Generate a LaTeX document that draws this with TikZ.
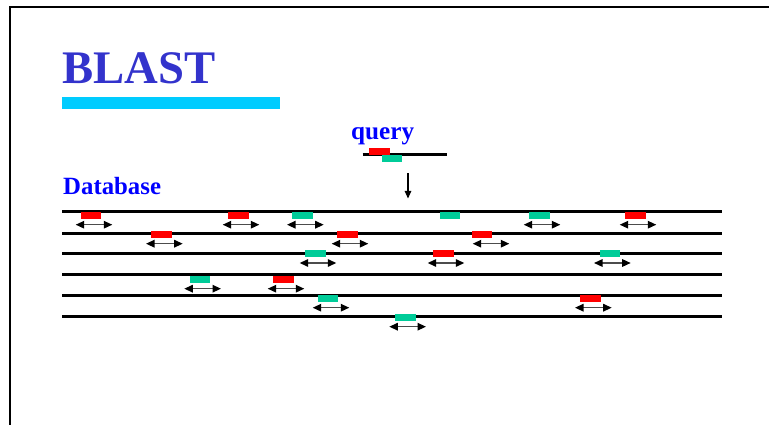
\documentclass[tikz,border=0pt]{standalone}
\usepackage{fontspec}
\setmainfont{Liberation Serif}
\usetikzlibrary{arrows.meta}
\definecolor{titleblue}{HTML}{3333CC}
\definecolor{barcyan}{HTML}{00CCFF}
\definecolor{hitred}{HTML}{FF0000}
\definecolor{hitgreen}{HTML}{00CC99}
\definecolor{lblblue}{HTML}{0000FF}
\tikzset{
  hitbox/.style={draw=none, inner sep=0pt, minimum width=20.3pt, minimum height=7pt, anchor=north west},
  seqline/.style={line width=3pt, black},
  dbl/.style={{Triangle[length=8.5pt,width=7.5pt,color=black]}-{Triangle[length=8.5pt,width=7.5pt,color=black]}, line width=1.4pt, draw=black!70},
  frameline/.style={line width=2pt, black},
  txt/.style={inner sep=0pt, anchor=base west, font=\bfseries}
}
\newcommand\hitmark[7]{%
  \node[hitbox, fill=#2] (#1) at (#3,#4) {};
  \coordinate (#1l) at (#5,#7);
  \coordinate (#1r) at (#6,#7);
  \draw[dbl] (#1l) -- (#1r);
}
\begin{document}
\begin{tikzpicture}[x=1pt,y=-1pt]
\useasboundingbox (0,0) rectangle (769,425);
% frame
\coordinate (fc) at (10,7);
\coordinate (fr) at (769,7);
\coordinate (fb) at (10,425);
\draw[frameline] (fr) -- (fc) -- (fb);
% title
\node[txt, text=titleblue, font=\fontsize{46.7}{50}\selectfont\bfseries] (title) at (62.3,83.5) {BLAST};
\node[fill=barcyan, inner sep=0pt, minimum width=218pt, minimum height=12pt, anchor=north west] (bar) at (62,97) {};
% query
\node[txt, text=lblblue, font=\fontsize{25.2}{28}\selectfont\bfseries] (qlbl) at (351,140) {query};
\coordinate (qa) at (362.7,154.7);
\coordinate (qb) at (446.7,154.7);
\draw[seqline] (qa) -- (qb);
\node[hitbox, fill=hitred] (qred) at (369,147.7) {};
\node[hitbox, fill=hitgreen] (qgreen) at (381.5,154.7) {};
\coordinate (da) at (408,173);
\coordinate (db) at (408,198.5);
\draw[{Triangle[length=7.5pt,width=6.5pt]}-, line width=1.1pt] (db) -- (da);
% database
\node[txt, text=lblblue, font=\fontsize{24.8}{28}\selectfont\bfseries] (dblbl) at (63,195) {Database};
\foreach \i/\y in {1/212,2/233,3/253,4/274,5/295,6/316}{
  \coordinate (s\i a) at (62,\y);
  \coordinate (s\i b) at (721.7,\y);
  \draw[seqline] (s\i a) -- (s\i b);
}
% hits
\hitmark{h1}{hitred}{80.7}{212}{75.7}{112.3}{224.7}
\hitmark{h2}{hitred}{228}{212}{222.7}{259.3}{224.7}
\hitmark{h3}{hitgreen}{292}{212}{287}{323.7}{224.7}
\node[hitbox, fill=hitgreen] (h4) at (439.3,212) {};
\hitmark{h5}{hitgreen}{529}{212}{523.7}{560.3}{224.7}
\hitmark{h6}{hitred}{625}{212}{619.7}{656.3}{224.7}
\hitmark{h7}{hitred}{151}{231}{146}{182.7}{243.7}
\hitmark{h8}{hitred}{337}{231}{331.7}{368.3}{243.7}
\hitmark{h9}{hitred}{471.3}{231}{472.7}{509.3}{243.7}
\hitmark{h10}{hitgreen}{305}{250}{299.7}{336.3}{263}
\hitmark{h11}{hitred}{433}{250}{427.7}{464.3}{263}
\hitmark{h12}{hitgreen}{599.3}{250}{594}{630.7}{263}
\hitmark{h13}{hitgreen}{189.7}{275.7}{184.3}{221}{288.7}
\hitmark{h14}{hitred}{273}{275.7}{267.7}{304.3}{288.7}
\hitmark{h15}{hitgreen}{317.7}{295}{312.7}{349.3}{307.7}
\hitmark{h16}{hitred}{580}{295}{575}{611.7}{307.7}
\hitmark{h17}{hitgreen}{395}{313.3}{389.3}{426}{326.7}
\end{tikzpicture}
\end{document}
